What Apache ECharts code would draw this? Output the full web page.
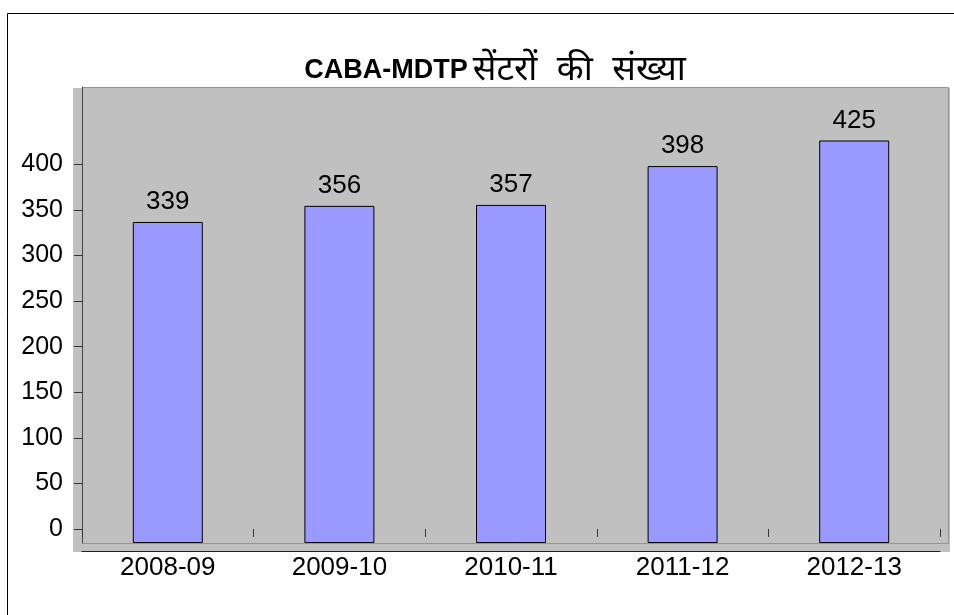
<!DOCTYPE html>
<html>
<head>
<meta charset="utf-8">
<script src="https://cdn.jsdelivr.net/npm/echarts@6/dist/echarts.min.js"></script>
<style>
  html, body { margin: 0; padding: 0; background: #fff; }
  #chart { width: 954px; height: 615px; }
</style>
</head>
<body>
<div id="chart"></div>
<script>
// data
var years = ['2008-09', '2009-10', '2010-11', '2011-12', '2012-13']
var centres = [339, 356, 357, 398, 425]
var yTicks = [0, 50, 100, 150, 200, 250, 300, 350, 400]

var fontName = '"Liberation Sans", Arial, "Noto Sans", sans-serif'

var myChart = echarts.init(document.getElementById('chart'))
myChart.setOption({
  animation: false,
  title: {
    text: '{a|CABA-MDTP} {b|सेंटरों  की  संख्या}',
    left: 490,
    top: 48,
    textAlign: 'center',
    textStyle: {
      rich: {
        a: { fontFamily: fontName, fontSize: 27, fontWeight: 'bold', color: '#000' },
        b: { fontFamily: fontName, fontSize: 35, fontWeight: 'normal', color: '#000' }
      }
    }
  },
  graphic: [
    // outer frame
    { type: 'rect', z: -20, shape: { x: 7.5, y: 13.5, width: 1000, height: 1000 },
      style: { fill: '#fff', stroke: '#000', lineWidth: 1 } },
    // plot area (with its little 3d lip)
    { type: 'rect', z: -15, shape: { x: 73, y: 88, width: 877, height: 464 },
      style: { fill: '#c0c0c0' } },
    { type: 'rect', z: -14, shape: { x: 82.5, y: 87.5, width: 866, height: 456 },
      style: { fill: '#c0c0c0', stroke: '#959595', lineWidth: 1 } }
  ],
  grid: {
    left: 82,
    right: 14,
    top: 87,
    bottom: 72,
    outerBoundsMode: 'none'
  },
  xAxis: [
    {
      type: 'category',
      data: years,
      offset: 8,
      axisLine: { onZero: false, lineStyle: { color: '#222', width: 1 } },
      axisTick: { show: false },
      axisLabel: { fontFamily: fontName, fontSize: 26, color: '#000', margin: 4 }
    },
    {
      // the little tick marks hanging off the zero line
      type: 'category',
      data: years,
      position: 'bottom',
      axisLine: { show: false, onZero: true, onZeroAxisIndex: 0 },
      axisTick: { show: true, length: 8, lineStyle: { color: '#333' } },
      axisLabel: { show: false }
    }
  ],
  yAxis: [
    {
      type: 'value',
      min: -15.4,
      max: 484.8,
      splitLine: { show: false },
      axisLine: { show: true, lineStyle: { color: '#444' } },
      axisTick: { show: true, length: 8, customValues: yTicks, lineStyle: { color: '#333' } },
      axisLabel: { customValues: yTicks, fontFamily: fontName, fontSize: 25, color: '#000', margin: 19 }
    },
    {
      // bars sit on the bottom of the plot area
      type: 'value',
      min: 0,
      max: 481.5,
      show: false,
      splitLine: { show: false }
    }
  ],
  series: [
    {
      type: 'bar',
      yAxisIndex: 1,
      data: centres,
      barWidth: 70,
      itemStyle: { color: '#9999ff', borderColor: '#000', borderWidth: 1 },
      label: {
        show: true,
        position: 'top',
        distance: 7,
        fontFamily: fontName,
        fontSize: 26,
        color: '#000'
      }
    }
  ]
})
</script>
</body>
</html>
